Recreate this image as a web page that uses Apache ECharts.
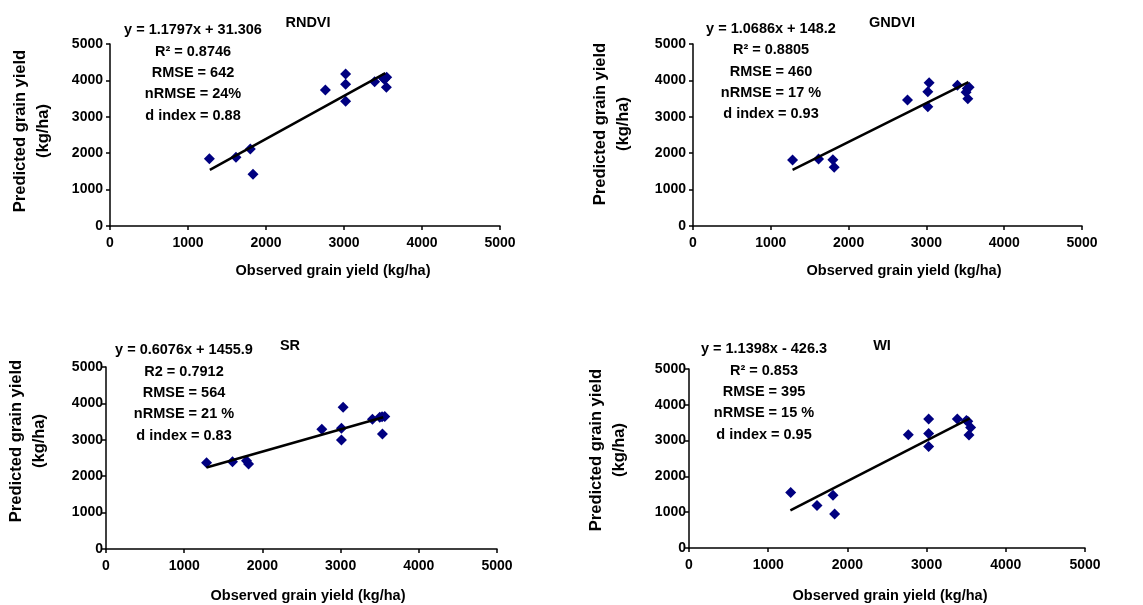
<!DOCTYPE html>
<html>
<head>
<meta charset="utf-8">
<script src="https://cdn.jsdelivr.net/npm/echarts@6/dist/echarts.min.js"></script>
<style>
  html, body { margin: 0; padding: 0; background: #fff; }
  #chart { width: 1143px; height: 605px; }
</style>
</head>
<body>
<div id="chart"></div>
<script>
// observed / predicted grain yield
const rndviObs  = [1274, 1615, 1799, 1833, 2761, 3021, 3021, 3021, 3393, 3504, 3547, 3543, 3520]
const rndviPred = [1850, 1886, 2115, 1419, 3736, 4176, 3892, 3425, 3965, 4057, 4084, 3810, 4030]
const gndviObs  = [1280, 1614, 1798, 1815, 2757, 3018, 3018, 3035, 3399, 3510, 3532, 3549, 3525]
const gndviPred = [1813, 1841, 1822, 1612, 3462, 3278, 3690, 3938, 3864, 3672, 3498, 3810, 3780]
const srObs     = [1286, 1618, 1797, 1823, 2760, 3011, 3032, 3011, 3407, 3501, 3565, 3535, 3530]
const srPred    = [2371, 2399, 2426, 2335, 3290, 3318, 3897, 2996, 3566, 3621, 3640, 3162, 3630]
const wiObs     = [1284, 1616, 1818, 1839, 2769, 3026, 3026, 3026, 3388, 3502, 3556, 3535, 3520]
const wiPred    = [1549, 1185, 1474, 951, 3162, 3601, 3200, 2836, 3601, 3563, 3368, 3153, 3540]

// trend line end points
const rndviTrend = [[1280, 1540], [3530, 4200]]
const gndviTrend = [[1280, 1540], [3540, 3950]]
const srTrend    = [[1285, 2240], [3545, 3620]]
const wiTrend    = [[1280, 1050], [3545, 3620]]

const panelNames = ['RNDVI', 'GNDVI', 'SR', 'WI']
const statLines = [
  ['y = 1.1797x + 31.306', 'R² = 0.8746', 'RMSE = 642', 'nRMSE = 24%', 'd index = 0.88'],
  ['y = 1.0686x + 148.2', 'R² = 0.8805', 'RMSE = 460', 'nRMSE = 17 %', 'd index = 0.93'],
  ['y = 0.6076x + 1455.9', 'R2 = 0.7912', 'RMSE = 564', 'nRMSE = 21 %', 'd index = 0.83'],
  ['y = 1.1398x - 426.3', 'R² = 0.853', 'RMSE = 395', 'nRMSE = 15 %', 'd index = 0.95']
]

const pairs = (xs, ys) => xs.map((x, i) => [x, ys[i]])
const scatterData = [
  pairs(rndviObs, rndviPred),
  pairs(gndviObs, gndviPred),
  pairs(srObs, srPred),
  pairs(wiObs, wiPred)
]
const trendData = [rndviTrend, gndviTrend, srTrend, wiTrend]

const font = 'Arial, "Liberation Sans", sans-serif'

// layout of each panel
const grids = [
  { left: 110, top: 44, width: 390, height: 182 },
  { left: 693, top: 44, width: 389, height: 182 },
  { left: 106, top: 367, width: 391, height: 182 },
  { left: 689, top: 369, width: 396, height: 179 }
]
const textPos = [
  { statX: 193, statY: [30, 52, 73, 94, 116], nameX: 308, nameY: 23, xTitle: [333, 271], yTitle: [32, 131] },
  { statX: 771, statY: [29, 50, 72, 93, 114], nameX: 892, nameY: 23, xTitle: [904, 271], yTitle: [612, 124] },
  { statX: 184, statY: [350, 372, 393, 414, 436], nameX: 290, nameY: 346, xTitle: [308, 596], yTitle: [28, 441] },
  { statX: 764, statY: [349, 371, 392, 413, 435], nameX: 882, nameY: 346, xTitle: [890, 596], yTitle: [608, 450] }
]

const axisBase = {
  type: 'value',
  min: 0,
  max: 5000,
  interval: 1000,
  splitLine: { show: false },
  axisLine: { show: true, onZero: false, lineStyle: { color: '#000', width: 1.5 } },
  axisTick: { show: true, inside: false, length: 4, lineStyle: { color: '#000', width: 1.5 } },
  axisLabel: {
    color: '#000', fontWeight: 'bold', fontSize: 14, fontFamily: font,
    formatter: v => String(v)
  }
}

const xAxis = grids.map((g, i) => ({
  ...axisBase,
  gridIndex: i,
  axisLabel: { ...axisBase.axisLabel, margin: 10 }
}))
const yAxis = grids.map((g, i) => ({
  ...axisBase,
  gridIndex: i,
  axisLabel: { ...axisBase.axisLabel, margin: i >= 2 ? 3 : 7 }
}))

const series = []
scatterData.forEach((d, i) => {
  series.push({
    type: 'scatter',
    xAxisIndex: i,
    yAxisIndex: i,
    symbol: 'diamond',
    symbolSize: 11,
    itemStyle: { color: '#000080', opacity: 1 },
    data: d
  })
  series.push({
    type: 'line',
    xAxisIndex: i,
    yAxisIndex: i,
    symbol: 'none',
    lineStyle: { color: '#000', width: 2.5 },
    data: trendData[i]
  })
})

const txt = (x, y, text, extra) => ({
  type: 'text',
  x, y,
  style: Object.assign({
    text,
    fill: '#000',
    font: 'bold 14.5px ' + font,
    textAlign: 'center',
    textVerticalAlign: 'middle'
  }, extra || {})
})

const graphic = []
textPos.forEach((p, i) => {
  statLines[i].forEach((s, k) => graphic.push(txt(p.statX, p.statY[k], s)))
  graphic.push(txt(p.nameX, p.nameY, panelNames[i]))
  graphic.push(txt(p.xTitle[0], p.xTitle[1], 'Observed grain yield (kg/ha)'))
  graphic.push({
    type: 'text',
    x: p.yTitle[0],
    y: p.yTitle[1],
    rotation: Math.PI / 2,
    style: {
      text: 'Predicted grain yield\n(kg/ha)',
      fill: '#000',
      font: 'bold 16.5px ' + font,
      lineHeight: 23,
      textAlign: 'center',
      textVerticalAlign: 'middle'
    }
  })
})

const chart = echarts.init(document.getElementById('chart'))
chart.setOption({
  backgroundColor: '#fff',
  animation: false,
  grid: grids,
  xAxis,
  yAxis,
  series,
  graphic
})
</script>
</body>
</html>
